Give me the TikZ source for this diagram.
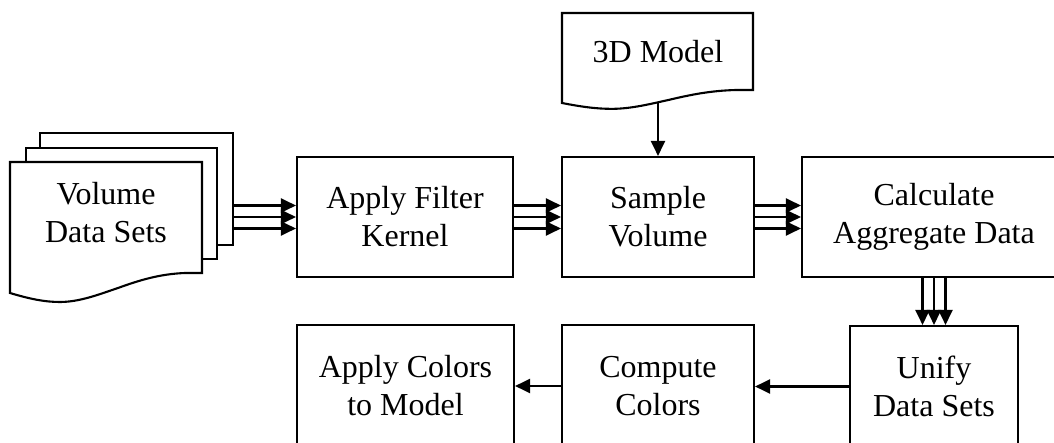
\documentclass[tikz,border=0pt]{standalone}
\usepackage{fontspec}
\setmainfont{Liberation Serif}
\usetikzlibrary{arrows.meta,calc}
\newcommand\mydoc[5]{%
  \filldraw[fill=white, line join=miter] (#1,#2) -- ({#1+#3},#2) -- ({#1+#3},{#4-20*#5}) -- ({#1+0.911*#3},{#4-20*#5})
    .. controls ({#1+0.781*#3},{#4-19*#5}) and ({#1+0.677*#3},{#4-13*#5}) .. ({#1+0.5625*#3},{#4-5*#5})
    .. controls ({#1+0.469*#3},{#4+1*#5}) and ({#1+0.365*#3},{#4+9*#5}) .. ({#1+0.26*#3},{#4+9*#5})
    .. controls ({#1+0.182*#3},{#4+9*#5}) and ({#1+0.104*#3},{#4+6*#5}) .. (#1,#4) -- cycle;}
\begin{document}
\begin{tikzpicture}[x=1pt,y=-1pt,line width=2.1pt,
  txt/.style={font=\fontsize{32}{38}\selectfont, align=center},
  box/.style={txt, draw, rectangle, inner sep=0pt},
  lbl/.style={txt, inner sep=0pt},
  arr/.style={-{Triangle[length=15pt,width=14pt]}}]
\clip (0,0) rectangle (1054,443);
\fill[white] (0,0) rectangle (1054,443);
% stacked documents
\draw[line join=miter] (40,148) -- (40,133) -- (233,133) -- (233,245) -- (217,245);
\draw[line join=miter] (26,162) -- (26,148) -- (217,148) -- (217,259) -- (202,259);
\mydoc{10}{162}{192}{293}{1}
\node[lbl] (vds) at (106,213) {Volume\\Data Sets};
\coordinate (vdsR) at (233,217);
% 3D model document
\mydoc{562}{13}{191}{103}{0.65}
\node[lbl] (model) at (658,52) {3D Model};
\coordinate (modelB) at (658,103);
% process boxes
\node[box, minimum width=216pt, minimum height=120pt] (filter) at (405,217) {Apply Filter\\Kernel};
\node[box, minimum width=192pt, minimum height=120pt] (sample) at (658,217) {Sample\\Volume};
\node[box, minimum width=264pt, minimum height=120pt] (calc) at (934,217) {Calculate\\Aggregate Data};
\node[box, minimum width=168pt, minimum height=121pt] (unify) at (934,386.5) {Unify\\Data Sets};
\node[box, minimum width=192pt, minimum height=122pt] (compute) at (658,386) {Compute\\Colors};
\node[box, minimum width=217pt, minimum height=122pt] (applycol) at (405.5,386) {Apply Colors\\to Model};
% connectors
\foreach \d in {-11.5,0,11.5} {
  \draw[arr] ($(vdsR |- filter.west)+(0,\d)$) -- ($(filter.west)+(0,\d)$);
  \draw[arr] ($(filter.east)+(0,\d)$) -- ($(sample.west)+(0,\d)$);
  \draw[arr] ($(sample.east)+(0,\d)$) -- ($(calc.west)+(0,\d)$);
  \draw[arr] ($(calc.south)+(\d,0)$) -- ($(unify.north)+(\d,0)$);
}
\draw[arr] (modelB) -- (sample.north);
\draw[arr] (unify.west) -- (unify.west -| compute.east);
\draw[arr] (compute.west) -- (applycol.east);
\end{tikzpicture}
\end{document}
